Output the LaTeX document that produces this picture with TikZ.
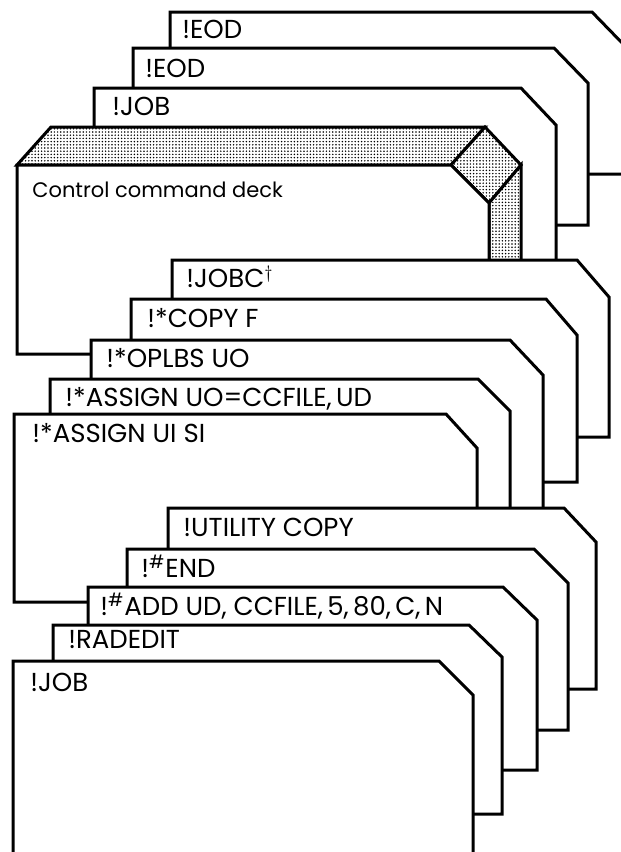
\documentclass[tikz,border=0pt]{standalone}
\usepackage{fontspec}
\setmainfont{Poppins}
\usetikzlibrary{patterns.meta}

\tikzset{
  card/.style={draw, fill=white, line width=1.5pt, line join=miter},
  dotface/.style={draw, line width=1.5pt, line join=miter, preaction={fill=white},
    pattern={Dots[distance=1.6pt, radius=0.42pt]}, pattern color=black},
  cardtext/.style={anchor=base west, inner sep=0pt, font=\fontsize{13}{15}\selectfont}
}

\begin{document}
\begin{tikzpicture}[x=0.5pt, y=-0.5pt]
	\clip (0,0) rectangle (621,852);
	\draw[card] (170,174) -- (170,12) -- (592,12) -- (626,47) -- (626,174) -- cycle;
	\node[cardtext] (eodA) at (182,38) {!EOD};
	\draw[card] (133,225) -- (133,48) -- (554,48) -- (588,83) -- (588,225) -- cycle;
	\node[cardtext] (eodB) at (145,77) {!EOD};
	\draw[card] (94,300) -- (94,88) -- (521,88) -- (556,125) -- (556,300) -- cycle;
	\node[cardtext] (jobA) at (112,115) {!JOB};
	
	\draw[dotface] (17,165) -- (51,127) -- (485,127) -- (451,165) -- cycle;
	\draw[dotface] (451,165) -- (485,127) -- (521,165) -- (489,203) -- cycle;
	\draw[dotface] (489,203) -- (521,165) -- (521,316) -- (489,354) -- cycle;
	\draw[card] (17,354) -- (17,165) -- (451,165) -- (489,203) -- (489,354) -- cycle;
	\node[cardtext, font=\fontsize{10.5}{12}\selectfont] (deck) at (32,197) {Control command deck};
	
	\draw[card] (172,437) -- (172,260) -- (577,260) -- (609,297) -- (609,437) -- cycle;
	\node[cardtext] (jobc) at (186,287) {!JOBC$^\dagger$};
	\draw[card] (131,482) -- (131,299) -- (546,299) -- (577,335) -- (577,482) -- cycle;
	\node[cardtext] (copyF) at (147,327) {!*COPY F};
	\draw[card] (91,530) -- (91,340) -- (510,340) -- (543,375) -- (543,530) -- cycle;
	\node[cardtext] (oplbs) at (106,367) {!*OPLBS UO};
	\draw[card] (50,560) -- (50,379) -- (478,379) -- (510,411) -- (510,560) -- cycle;
	\node[cardtext] (assignUO) at (65,406) {!*ASSIGN UO=CCFILE,\,UD};
	\draw[card] (14,602) -- (14,414) -- (446,414) -- (477,448) -- (477,602) -- cycle;
	\node[cardtext] (assignUI) at (32,442) {!*ASSIGN UI SI};
	
	\draw[card] (168,689) -- (168,508) -- (564,508) -- (596,542) -- (596,689) -- cycle;
	\node[cardtext] (utility) at (183,536) {!UTILITY COPY};
	\draw[card] (127,730) -- (127,549) -- (534,549) -- (568,583) -- (568,730) -- cycle;
	\node[cardtext] (endcard) at (141,577) {!\textsuperscript{\#}END};
	\draw[card] (88,770) -- (88,587) -- (503,587) -- (537,620) -- (537,770) -- cycle;
	\node[cardtext] (add) at (100,615) {!\textsuperscript{\#}ADD UD, CCFILE,\,5,\,80,\,C,\,N};
	\draw[card] (53,814) -- (53,625) -- (469,625) -- (502,657) -- (502,814) -- cycle;
	\node[cardtext] (radedit) at (68,648) {!RADEDIT};
	\draw[card] (13,870) -- (13,661) -- (439,661) -- (473,695) -- (473,870) -- cycle;
	\node[cardtext] (jobB) at (30,691) {!JOB};
	
\end{tikzpicture}
\end{document}
